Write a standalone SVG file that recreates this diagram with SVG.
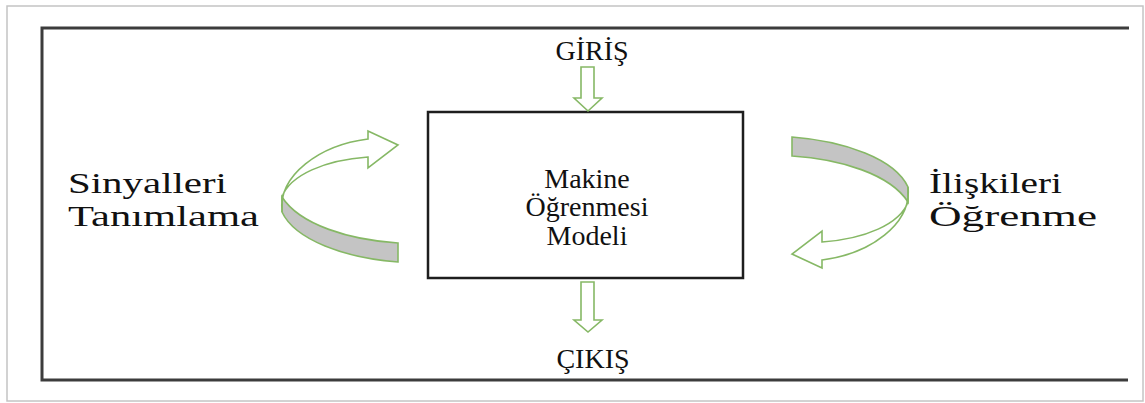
<svg xmlns="http://www.w3.org/2000/svg" width="1145" height="403" viewBox="0 0 1145 403">
<style>
.t{font-family:"Liberation Serif","Times New Roman",serif;font-size:28px;fill:#111}
.s{font-size:30px}
.ga{fill:#fff;stroke:#86b865;stroke-width:1.6;stroke-linejoin:miter}
.band{fill:#c4c4c4;stroke:#86b865;stroke-width:1.6}
</style>
<rect width="1145" height="403" fill="#fff"/>
<rect x="7" y="6" width="1136" height="395" fill="none" stroke="#c4c4c4" stroke-width="1.5"/>
<path d="M1129,28 H42 V380 H1128" fill="none" stroke="#3c3c3c" stroke-width="3"/>
<g id="model">
<rect x="428" y="112" width="315" height="166" fill="#fff" stroke="#1e1e1e" stroke-width="2.5"/>
<text class="t" x="587" y="188" text-anchor="middle">Makine</text>
<text class="t" x="587" y="216" text-anchor="middle">Öğrenmesi</text>
<text class="t" x="587" y="245" text-anchor="middle">Modeli</text>
</g>
<g id="giris"><text class="t" x="592" y="60" text-anchor="middle">GİRİŞ</text></g>
<g id="cikis"><text class="t" x="593" y="368" text-anchor="middle">ÇIKIŞ</text></g>
<g id="sinyal">
<text class="t s" x="68" y="193" textLength="159" lengthAdjust="spacingAndGlyphs">Sinyalleri</text>
<text class="t s" x="68" y="226" textLength="191" lengthAdjust="spacingAndGlyphs">Tanımlama</text>
</g>
<g id="iliski">
<text class="t s" x="929" y="193" textLength="133" lengthAdjust="spacingAndGlyphs">İlişkileri</text>
<text class="t s" x="929" y="226" textLength="168" lengthAdjust="spacingAndGlyphs">Öğrenme</text>
</g>
<g id="connectors">
<polygon class="ga" points="581,67 594,67 594,98 602,98 588,111 574,98 581,98"/>
<polygon class="ga" points="581,282 594,282 594,320 602,320 588,332 574,320 581,320"/>
<g id="leftcurve">
<path class="band" d="M398,243 C350,240 300,225 282,197 L282,212 C295,240 345,258 398,262 Z"/>
<path class="ga" d="M282,212 C278,175 320,145 368,139 L368,131 L398,145 L368,168 L368,157 C325,160 290,175 282,197 Z"/>
</g>
<g id="rightcurve" transform="rotate(180 595 199.5)">
<path class="band" d="M398,243 C350,240 300,225 282,197 L282,212 C295,240 345,258 398,262 Z"/>
<path class="ga" d="M282,212 C278,175 320,145 368,139 L368,131 L398,145 L368,168 L368,157 C325,160 290,175 282,197 Z"/>
</g>
</g>
</svg>
